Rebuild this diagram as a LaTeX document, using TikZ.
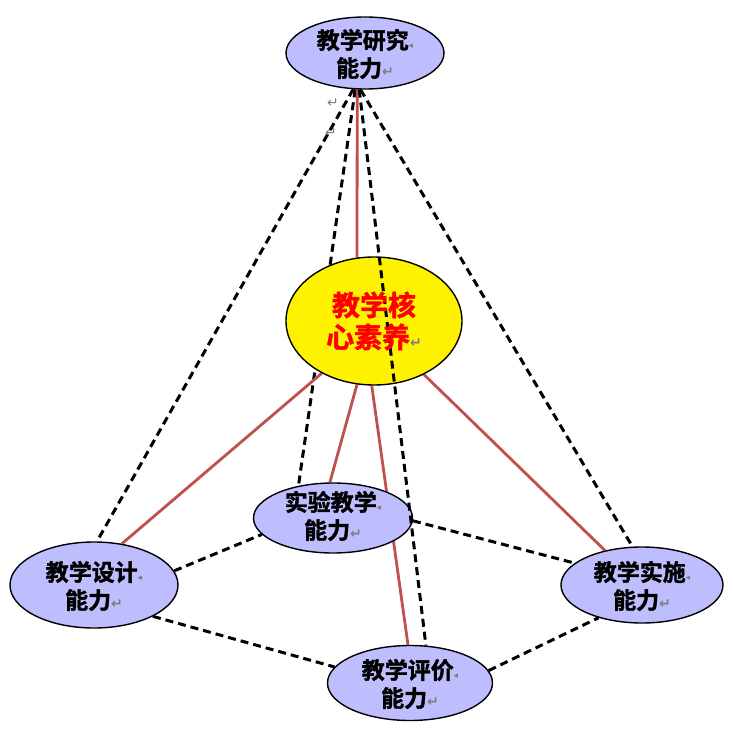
\documentclass[tikz,border=0pt]{standalone}
\usepackage{fontspec}
\newfontfamily\cjk{Noto Sans CJK SC}[BoldFont={Noto Sans CJK SC Bold}, BoldFeatures={FakeBold=1.6}]
\newfontfamily\dejavu{DejaVu Sans}
\usetikzlibrary{shapes.geometric}
\pgfdeclarelayer{bg}
\pgfsetlayers{bg,main}
\definecolor{lav}{RGB}{190,190,255}
\definecolor{redline}{RGB}{192,80,77}
\definecolor{markgray}{RGB}{125,125,125}
\newcommand{\pmark}{{\dejavu\fontsize{14}{14}\selectfont\color{markgray}↵}}
\newcommand{\lmark}{{\dejavu\fontsize{9}{9}\selectfont\color{markgray}◂}}
\tikzset{
  abil/.style={ellipse, draw=black, line width=1.4pt, fill=lav, inner sep=0pt},
  corebox/.style={ellipse, draw=black, line width=1.4pt, fill=yellow, inner sep=0pt},
  lbl/.style={align=center, inner sep=0pt, font=\cjk\bfseries\fontsize{23}{28}\selectfont},
  corelbl/.style={align=center, inner sep=0pt, text=red, font=\cjk\bfseries\fontsize{28}{32}\selectfont},
  dashline/.style={line width=3pt, dash pattern=on 8pt off 5pt},
  redl/.style={line width=2.8pt, draw=redline},
  marknode/.style={inner sep=0pt}
}
\begin{document}
\begin{tikzpicture}[x=1pt,y=-1pt]
\useasboundingbox (0,0) rectangle (733,736);
% node shapes
\node[abil, minimum width=158pt, minimum height=72pt] (top) at (365,53) {};
\node[corebox, minimum width=176pt, minimum height=128pt] (core) at (374,321) {};
\node[abil, minimum width=168pt, minimum height=86pt] (design) at (94,585) {};
\node[abil, minimum width=159pt, minimum height=70pt] (lab) at (333,518) {};
\node[abil, minimum width=165pt, minimum height=75pt] (eval) at (410,683) {};
\node[abil, minimum width=162pt, minimum height=76pt] (impl) at (642,585) {};

% connectors behind the shapes
\begin{pgfonlayer}{bg}
  \draw[dashline] (top.-108) -- (design.86);
  \draw[dashline] (top.-105) -- (lab.137);
  \draw[dashline] (top.-97) -- (impl.104);
  \draw[redl] (top.-102) -- (core.105);
  \draw[redl] (core.-135) -- (design.56);
  \draw[redl] (core.-105) -- (lab.95);
  \draw[redl] (core.-92) -- (eval.93);
  \draw[redl] (core.-47) -- (impl.137);
  \draw[dashline] (design.10) -- (lab.193);
  \draw[dashline] (design.-28) -- (eval.168);
  \draw[dashline] (lab.-2) -- (impl.162);
  \draw[dashline] (eval.9) -- (impl.-143);
\end{pgfonlayer}
% dashed line drawn over the core ellipse
\draw[dashline] (top.-99) -- (eval.67);

% texts
\node[lbl] (topt) at (365,54) {教学研究\lmark\\能力\pmark};
\node[corelbl] (coret) at (374,321) {教学核\\心素养\pmark};
\node[lbl] (designt) at (94,586) {教学设计\lmark\\能力\pmark};
\node[lbl] (labt) at (333,516) {实验教学\lmark\\能力\pmark};
\node[lbl] (evalt) at (410,684) {教学评价\lmark\\能力\pmark};
\node[lbl] (implt) at (642,586) {教学实施\lmark\\能力\pmark};
% stray paragraph marks
\node[marknode] (m1) at (333,103) {\pmark};
\node[marknode] (m2) at (331,133) {\pmark};
\end{tikzpicture}
\end{document}
